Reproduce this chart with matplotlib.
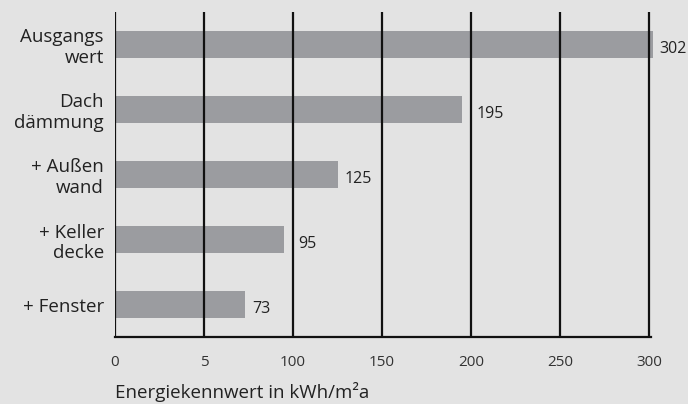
import matplotlib.pyplot as plt

categories = ['Ausgangs\nwert', 'Dach\ndämmung', '+ Außen\nwand', '+ Keller\ndecke', '+ Fenster']
values = [302, 195, 125, 95, 73]
tick_values = [0, 50, 100, 150, 200, 250, 300]
tick_labels = ['0', '5', '100', '150', '200', '250', '300']

plt.rcParams['font.family'] = ['Open Sans', 'DejaVu Sans']

fig = plt.figure(figsize=(6.88, 4.04), dpi=100)
fig.patch.set_facecolor('#e3e3e3')
ax = fig.add_axes([115 / 688, 1 - 337 / 404, (651 - 115) / 688, (337 - 12) / 404])
ax.set_facecolor('none')

pos = list(range(len(categories)))
ax.barh(pos, values, height=0.41, color='#9b9ca0', zorder=2, clip_on=False)
for v in tick_values:
    ax.axvline(v, color='#111111', lw=1.6, zorder=3)

for p, v in zip(pos, values):
    # Beschriftung nicht auf eine Gitterlinie setzen
    x = v
    dx = 5
    for g in tick_values:
        if 0 <= g - v < 7:
            x = g
            dx = 4
    ax.annotate(str(v), (x, p), xytext=(dx, -3), textcoords='offset points',
                va='center', ha='left', fontsize=11.5, color='#222222',
                annotation_clip=False)

ax.set_ylim(len(categories) - 0.5, -0.5)
ax.set_xlim(0, 301)
ax.set_yticks(pos)
ax.set_yticklabels(categories, fontsize=13.5, color='#222222', linespacing=1.15)
ax.set_xticks(tick_values)
ax.set_xticklabels(tick_labels, fontsize=11, color='#333333')
ax.tick_params(axis='both', length=0)
ax.tick_params(axis='x', pad=13)
ax.tick_params(axis='y', pad=8)

for s in ['top', 'right', 'left']:
    ax.spines[s].set_visible(False)
ax.spines['bottom'].set_linewidth(1.6)
ax.spines['bottom'].set_color('#111111')

fig.text(115 / 688, 1 - 392 / 404, 'Energiekennwert in kWh/m²a', ha='left', va='center',
         fontsize=13.5, color='#222222')

fig.savefig('out.png', dpi=100, facecolor=fig.get_facecolor())
